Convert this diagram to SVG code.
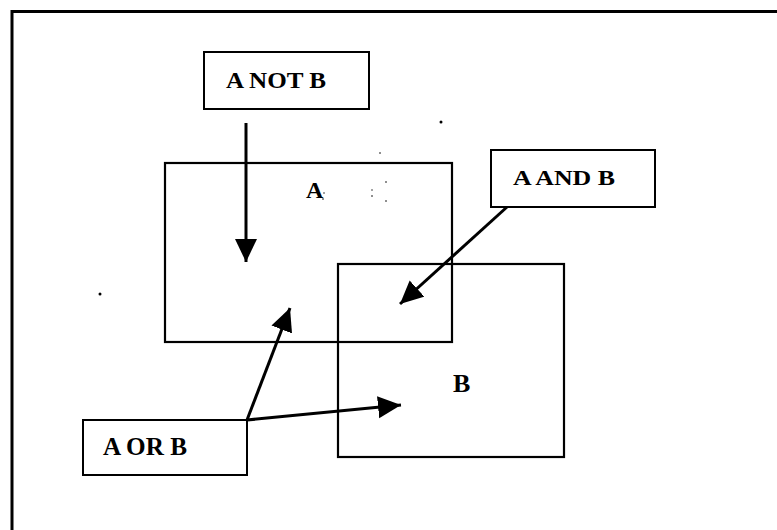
<svg xmlns="http://www.w3.org/2000/svg" width="777" height="530" viewBox="0 0 777 530">
  <style>
    .box { fill: none; stroke: #000; stroke-width: 2; }
    .set { fill: none; stroke: #000; stroke-width: 2.2; }
    .lbl { font-family: "Liberation Serif", "Times New Roman", serif; font-size: 23px; font-weight: bold; fill: #000; }
    .conn { fill: none; stroke: #000; stroke-width: 3; marker-end: url(#ah); }
    .speck { fill: #000; }
  </style>
  <defs>
    <marker id="ah" markerUnits="userSpaceOnUse" markerWidth="26" markerHeight="24" refX="23" refY="11" orient="auto">
      <path d="M0,0 L23,11 L0,22 Z" fill="#000"/>
    </marker>
  </defs>
  <rect width="777" height="530" fill="#fff"/>
  <path d="M12,530 V11.5 H777" fill="none" stroke="#000" stroke-width="3"/>

  <g id="setA">
    <rect class="set" x="165" y="163" width="287" height="179"/>
    <text class="lbl" x="306" y="198" style="font-size:24px">A</text>
    <circle class="speck" cx="323" cy="199" r="0.8"/>
    <circle class="speck" cx="324" cy="193" r="0.7"/>
    <circle class="speck" cx="372" cy="196" r="0.8"/>
    <circle class="speck" cx="372" cy="190" r="0.7"/>
    <circle class="speck" cx="386" cy="201" r="0.8"/>
    <circle class="speck" cx="386" cy="182" r="0.8"/>
  </g>
  <g id="setB">
    <rect class="set" x="338" y="264" width="226" height="193"/>
    <text class="lbl" x="453" y="392" style="font-size:26px">B</text>
  </g>
  <g id="notNode">
    <rect class="box" x="204" y="52" width="165" height="57"/>
    <text class="lbl" x="226" y="88" textLength="100" lengthAdjust="spacingAndGlyphs">A NOT B</text>
  </g>
  <g id="andNode">
    <rect class="box" x="491" y="150" width="164" height="57"/>
    <text class="lbl" x="513" y="185" textLength="102" lengthAdjust="spacingAndGlyphs" style="font-size:22px">A AND B</text>
  </g>
  <g id="orNode">
    <rect class="box" x="83" y="420" width="164" height="55"/>
    <text class="lbl" x="103" y="455" textLength="84" lengthAdjust="spacingAndGlyphs" style="font-size:25px">A OR B</text>
  </g>

  <g id="connectors">
    <line class="conn" x1="246" y1="123" x2="246" y2="262"/>
    <line class="conn" x1="507" y1="207" x2="400" y2="304"/>
    <line class="conn" x1="247" y1="420" x2="290" y2="308"/>
    <line class="conn" x1="247" y1="420" x2="401" y2="405"/>
  </g>

  <g id="specks">
    <circle class="speck" cx="441" cy="122" r="1.5"/>
    <circle class="speck" cx="100" cy="294" r="1.5"/>
    <circle class="speck" cx="380" cy="153" r="0.8"/>
  </g>
</svg>
